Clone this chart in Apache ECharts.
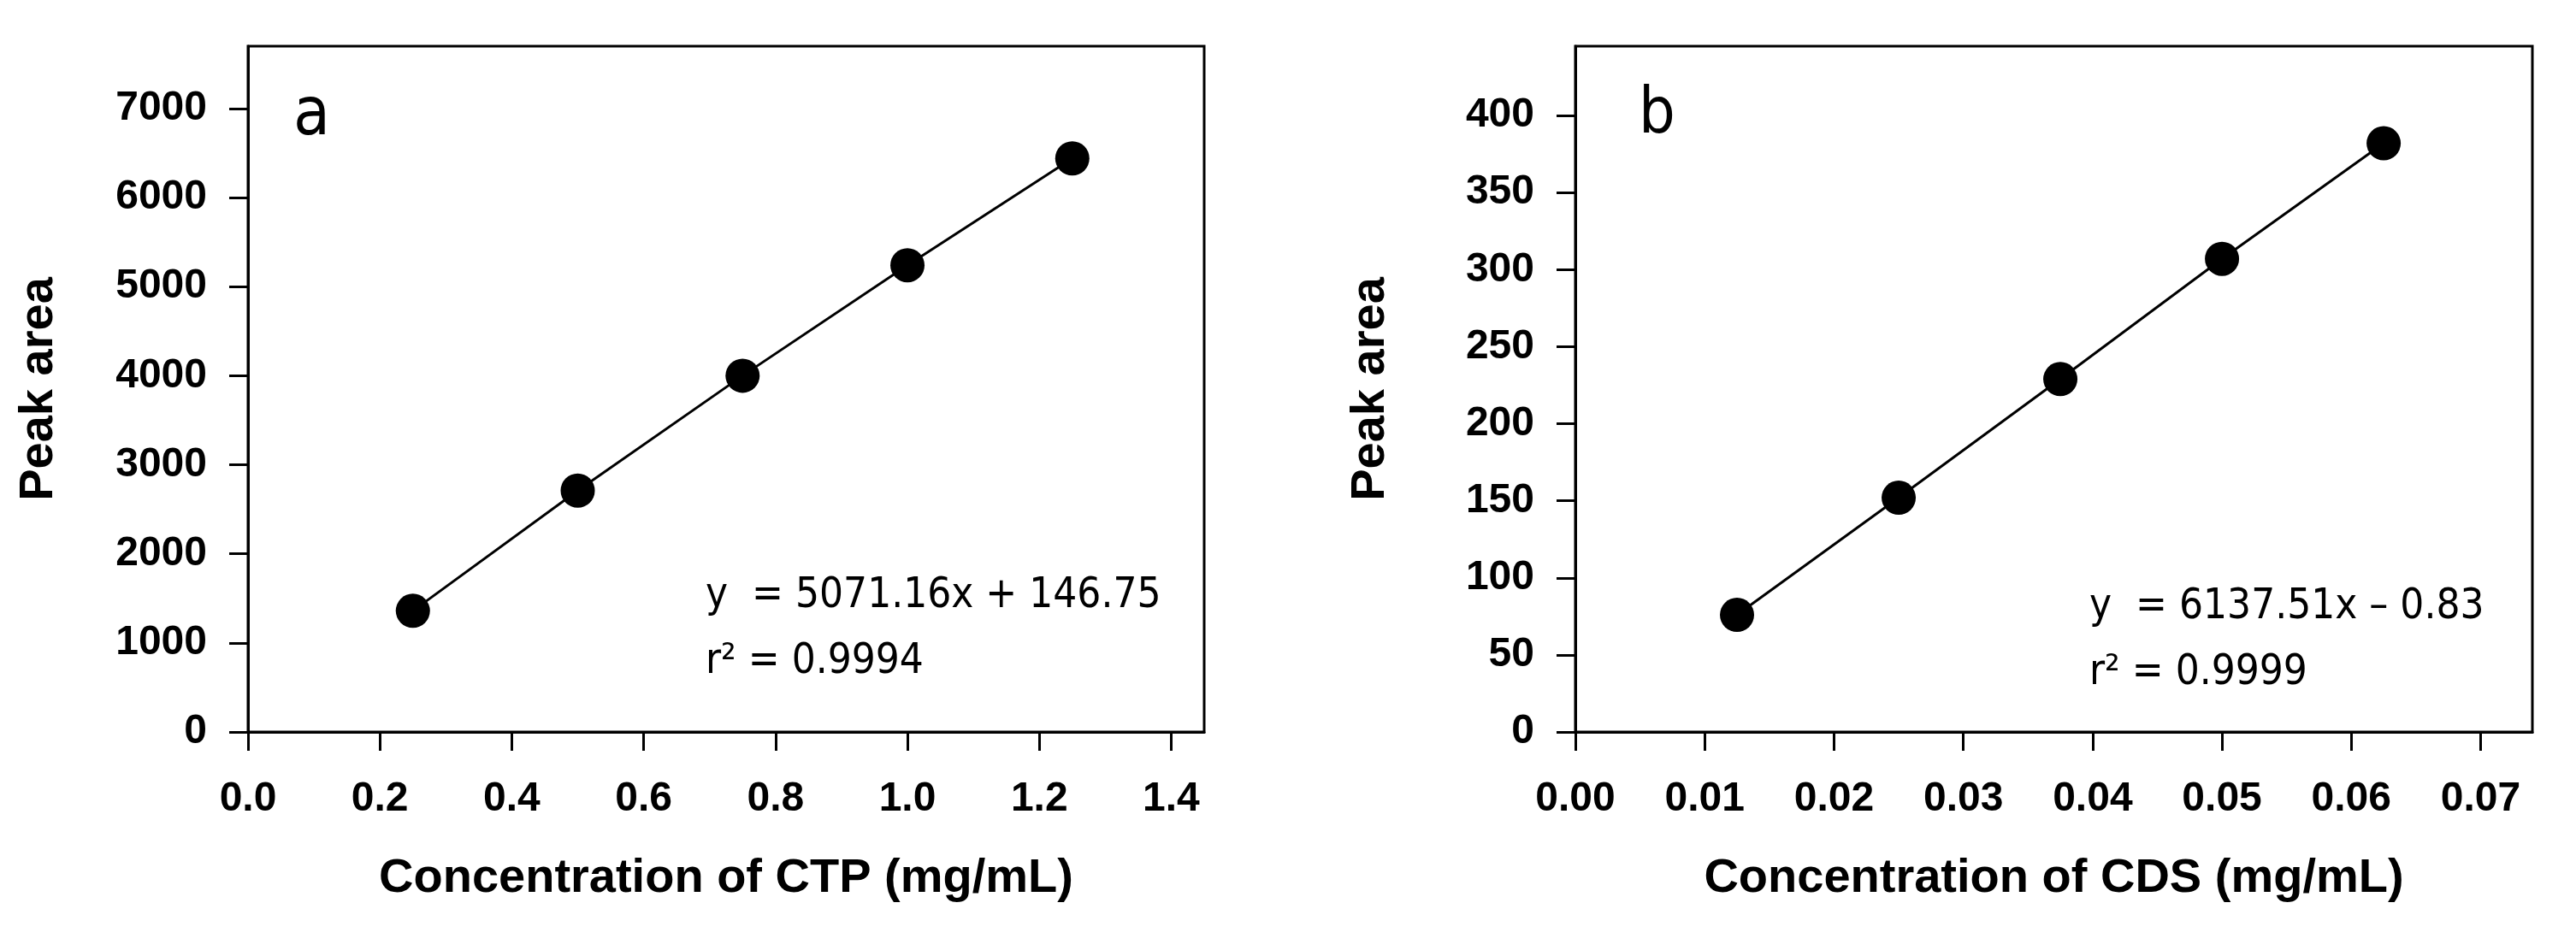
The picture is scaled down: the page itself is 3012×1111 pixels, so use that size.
<!DOCTYPE html>
<html>
<head>
<meta charset="utf-8">
<script src="https://cdn.jsdelivr.net/npm/echarts@6/dist/echarts.min.js"></script>
<style>
  html, body { margin: 0; padding: 0; background: #fff; }
  #chart { width: 3012px; height: 1111px; }
</style>
</head>
<body>
<div id="chart"></div>
<script>
// panel a: CTP
const ctpConc = [0.25, 0.5, 0.75, 1.0, 1.25];
const ctpArea = [1360, 2710, 4000, 5240, 6440];
const ctpXTicks = [0, 0.2, 0.4, 0.6, 0.8, 1.0, 1.2, 1.4];
const ctpYTicks = [0, 1000, 2000, 3000, 4000, 5000, 6000, 7000];
const ctpFit = ["y  = 5071.16x + 146.75", "r² = 0.9994"];

// panel b: CDS
const cdsConc = [0.0125, 0.025, 0.0375, 0.05, 0.0625];
const cdsArea = [76, 152, 229, 307, 382];
const cdsXTicks = [0, 0.01, 0.02, 0.03, 0.04, 0.05, 0.06, 0.07];
const cdsYTicks = [0, 50, 100, 150, 200, 250, 300, 350, 400];
const cdsFit = ["y  = 6137.51x – 0.83", "r² = 0.9999"];

const BOLD = "Liberation Sans";
const NARROW = "'Liberation Sans Narrow', 'Arial Narrow', 'DejaVu Sans Condensed', sans-serif";

function pairs(xs, ys) {
  return xs.map((x, i) => [x, ys[i]]);
}

function xAxis(idx, max, ticks, digits, name) {
  return {
    type: "value",
    gridIndex: idx,
    min: 0,
    max: max,
    name: name,
    nameLocation: "middle",
    nameGap: 144,
    nameTextStyle: { fontFamily: BOLD, fontWeight: "bold", fontSize: 56, color: "#000" },
    axisLine: { show: true, lineStyle: { color: "#000", width: 3 } },
    axisTick: { show: true, length: 22, lineStyle: { color: "#000", width: 3 }, customValues: ticks },
    axisLabel: {
      margin: 55,
      fontFamily: BOLD, fontWeight: "bold", fontSize: 48, color: "#000",
      customValues: ticks,
      formatter: v => v.toFixed(digits)
    },
    splitLine: { show: false }
  };
}

function yAxis(idx, max, ticks, gap) {
  return {
    type: "value",
    gridIndex: idx,
    min: 0,
    max: max,
    name: "Peak area",
    nameLocation: "middle",
    nameGap: gap,
    nameTextStyle: { fontFamily: BOLD, fontWeight: "bold", fontSize: 56, color: "#000" },
    axisLine: { show: true, lineStyle: { color: "#000", width: 3 } },
    axisTick: { show: true, length: 22, lineStyle: { color: "#000", width: 3 }, customValues: ticks },
    axisLabel: {
      margin: 48,
      fontFamily: BOLD, fontWeight: "bold", fontSize: 48, color: "#000",
      customValues: ticks,
      formatter: v => String(v)
    },
    splitLine: { show: false }
  };
}

function curve(idx, xs, ys) {
  return {
    type: "line",
    xAxisIndex: idx,
    yAxisIndex: idx,
    data: pairs(xs, ys),
    symbol: "circle",
    symbolSize: 40,
    itemStyle: { color: "#000" },
    lineStyle: { color: "#000", width: 3 },
    animation: false
  };
}

function label(text, x, y, size) {
  return {
    type: "text",
    left: x,
    top: y,
    style: { text: text, fontFamily: NARROW, fontSize: size, fill: "#000" }
  };
}

const chart = echarts.init(document.getElementById("chart"));
chart.setOption({
  backgroundColor: "#fff",
  animation: false,
  grid: [
    { left: 290, top: 54, width: 1118, height: 802, show: true, borderColor: "#000", borderWidth: 3 },
    { left: 1842, top: 54, width: 1119, height: 802, show: true, borderColor: "#000", borderWidth: 3 }
  ],
  xAxis: [
    xAxis(0, 1.45, ctpXTicks, 1, "Concentration of CTP (mg/mL)"),
    xAxis(1, 0.074, cdsXTicks, 2, "Concentration of CDS (mg/mL)")
  ],
  yAxis: [
    yAxis(0, 7700, ctpYTicks, 216),
    yAxis(1, 445, cdsYTicks, 211)
  ],
  series: [
    curve(0, ctpConc, ctpArea),
    curve(1, cdsConc, cdsArea)
  ],
  graphic: [
    label("a", 343, 98, 78),
    label("b", 1916, 98, 75),
    label(ctpFit[0], 825, 673, 49),
    label(ctpFit[1], 825, 750, 49),
    label(cdsFit[0], 2443, 686, 49),
    label(cdsFit[1], 2443, 763, 49)
  ]
});
</script>
</body>
</html>
